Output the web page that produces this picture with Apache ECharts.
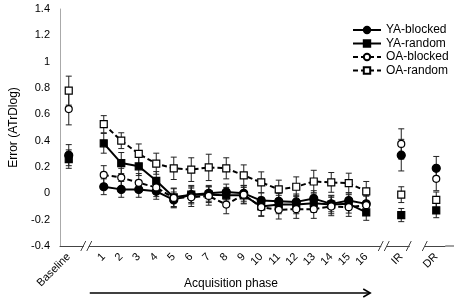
<!DOCTYPE html>
<html>
<head>
<meta charset="utf-8">
<script src="https://cdn.jsdelivr.net/npm/echarts@6/dist/echarts.min.js"></script>
<style>
  html, body { margin: 0; padding: 0; background: #fff; }
  #chart { width: 454px; height: 301px; }
</style>
</head>
<body>
<div id="chart"></div>
<script>
// tick labels: Baseline, acquisition blocks 1..16, IR, DR
const categories = ['Baseline', '1', '2', '3', '4', '5', '6', '7', '8', '9', '10', '11', '12', '13', '14', '15', '16', 'IR', 'DR'];
const seriesNames = ['YA-blocked', 'YA-random', 'OA-blocked', 'OA-random'];

// mean error per category (same order as categories)
const yaBlocked = [0.29, 0.05, 0.03, 0.03, 0.015, -0.05, -0.01, 0.0, 0.01, 0.0, -0.055, -0.06, -0.065, -0.04, -0.08, -0.055, -0.08, 0.29, 0.19];
const yaRandom = [0.26, 0.38, 0.23, 0.205, 0.095, -0.03, -0.01, -0.01, -0.015, -0.015, -0.1, -0.085, -0.085, -0.075, -0.085, -0.08, -0.145, -0.165, -0.13];
const oaBlocked = [0.64, 0.14, 0.12, 0.08, 0.045, -0.035, -0.03, -0.02, -0.085, -0.01, -0.105, -0.125, -0.12, -0.12, -0.1, -0.105, -0.09, 0.375, 0.11];
const oaRandom = [0.78, 0.525, 0.40, 0.30, 0.225, 0.19, 0.18, 0.197, 0.19, 0.136, 0.083, 0.03, 0.05, 0.09, 0.083, 0.078, 0.015, -0.01, -0.05];

// error bar half-lengths
const yaBlockedErr = [0.08, 0.06, 0.06, 0.06, 0.06, 0.06, 0.06, 0.06, 0.06, 0.06, 0.06, 0.06, 0.06, 0.06, 0.06, 0.06, 0.06, 0.12, 0.09];
const yaRandomErr = [0.07, 0.075, 0.08, 0.07, 0.07, 0.07, 0.07, 0.06, 0.06, 0.06, 0.07, 0.07, 0.07, 0.07, 0.07, 0.07, 0.06, 0.05, 0.055];
const oaBlockedErr = [0.12, 0.07, 0.07, 0.07, 0.07, 0.07, 0.07, 0.07, 0.07, 0.07, 0.07, 0.07, 0.07, 0.07, 0.07, 0.07, 0.07, 0.115, 0.09];
const oaRandomErr = [0.11, 0.065, 0.06, 0.075, 0.08, 0.085, 0.09, 0.1, 0.08, 0.08, 0.08, 0.07, 0.075, 0.085, 0.075, 0.075, 0.075, 0.06, 0.06];

// insert empty slots where the axis is broken
const gapAfter = { 0: 'gap1', 16: 'gap2', 17: 'gap3' };
function withGaps(arr, fill) {
  const out = [];
  arr.forEach((v, i) => {
    out.push(v);
    if (gapAfter[i]) out.push(fill === undefined ? gapAfter[i] : fill);
  });
  return out;
}
const axisCats = withGaps(categories);

const FONT = 'Liberation Sans, Arial, sans-serif';
const chart = echarts.init(document.getElementById('chart'));

const lineDefs = [
  { name: seriesNames[0], data: yaBlocked, err: yaBlockedErr, symbol: 'circle', size: 8, fill: '#000', dash: 'solid' },
  { name: seriesNames[1], data: yaRandom, err: yaRandomErr, symbol: 'rect', size: 7, fill: '#000', dash: 'solid' },
  { name: seriesNames[2], data: oaBlocked, err: oaBlockedErr, symbol: 'circle', size: 7, fill: '#fff', dash: [5, 3] },
  { name: seriesNames[3], data: oaRandom, err: oaRandomErr, symbol: 'rect', size: 7, fill: '#fff', dash: [5, 3] }
];

const series = [];
lineDefs.forEach(d => {
  const errData = [];
  let k = 0;
  axisCats.forEach((c, i) => {
    if (c.indexOf('gap') === 0) return;
    errData.push([i, d.data[k] - d.err[k], d.data[k] + d.err[k]]);
    k++;
  });
  series.push({
    name: 'err ' + d.name,
    type: 'custom',
    z: 1,
    silent: true,
    encode: { x: 0, y: [1, 2] },
    data: errData,
    renderItem(params, api) {
      const lo = api.coord([api.value(0), api.value(1)]);
      const hi = api.coord([api.value(0), api.value(2)]);
      const w = 3;
      const style = { stroke: '#222', lineWidth: 1 };
      return {
        type: 'group',
        children: [
          { type: 'line', shape: { x1: lo[0], y1: lo[1], x2: hi[0], y2: hi[1] }, style },
          { type: 'line', shape: { x1: lo[0] - w, y1: lo[1], x2: lo[0] + w, y2: lo[1] }, style },
          { type: 'line', shape: { x1: hi[0] - w, y1: hi[1], x2: hi[0] + w, y2: hi[1] }, style }
        ]
      };
    }
  });
});
lineDefs.forEach(d => {
  series.push({
    name: d.name,
    type: 'line',
    z: 3,
    data: withGaps(d.data, null),
    connectNulls: false,
    symbol: d.symbol,
    symbolSize: d.size,
    showAllSymbol: true,
    lineStyle: { color: '#000', width: 2, type: d.dash },
    itemStyle: { color: d.fill, borderColor: '#000', borderWidth: 1.2 },
    emphasis: { disabled: true }
  });
});

chart.setOption({
  animation: false,
  grid: { left: 49, right: 9, top: 9, bottom: 55 },
  legend: {
    data: seriesNames,
    orient: 'vertical',
    left: 347,
    top: 19,
    itemWidth: 28,
    itemHeight: 8,
    itemGap: 1.5,
    textStyle: { fontFamily: FONT, fontSize: 12, color: '#000', lineHeight: 12 }
  },
  xAxis: {
    type: 'category',
    data: axisCats,
    boundaryGap: true,
    axisLine: { onZero: false, lineStyle: { color: '#444', width: 1 } },
    axisTick: { show: false },
    axisLabel: {
      interval: 0,
      rotate: 45,
      margin: 9,
      fontFamily: FONT,
      fontSize: 11,
      color: '#000',
      formatter: v => (v.indexOf('gap') === 0 ? '' : v)
    }
  },
  yAxis: {
    type: 'value',
    min: -0.4,
    max: 1.4,
    interval: 0.2,
    name: 'Error (ATrDlog)',
    nameLocation: 'middle',
    nameGap: 40,
    nameTextStyle: { fontFamily: FONT, fontSize: 12, color: '#000' },
    axisLine: { show: true, lineStyle: { color: '#aaa' } },
    axisTick: { show: false },
    splitLine: { show: false },
    axisLabel: {
      fontFamily: FONT,
      fontSize: 11,
      color: '#000',
      margin: 10,
      formatter: v => String(Math.round(v * 10) / 10)
    }
  },
  series: series
});

// axis breaks, phase label and arrow placed from axis positions
const px = i => chart.convertToPixel({ xAxisIndex: 0 }, i);
const axisY = chart.convertToPixel({ yAxisIndex: 0 }, -0.4);
const lineStyle = { stroke: '#444', lineWidth: 1 };
const graphics = [];
function slash(x) {
  graphics.push({ type: 'line', shape: { x1: x - 2.5, y1: axisY + 5, x2: x + 2.5, y2: axisY - 5 }, style: lineStyle, z: 10 });
}
function cut(x1, x2) {
  graphics.push({ type: 'rect', shape: { x: x1, y: axisY - 2, width: x2 - x1, height: 4 }, style: { fill: '#fff' }, z: 9 });
}
[1, 18].forEach(i => {
  const cx = px(i);
  cut(cx - 2.5, cx + 2.5);
  slash(cx - 3);
  slash(cx + 3);
});
const g3 = px(20);
cut(g3 - 9, g3 + 6);
slash(g3 - 10);
slash(g3 + 6);
const gridRight = px(21) + 9;
graphics.push({ type: 'line', shape: { x1: gridRight, y1: axisY, x2: 454, y2: axisY }, style: lineStyle, z: 10 });

const aStart = px(2) - 14;
const aEnd = px(17) + 4;
graphics.push({
  type: 'text',
  style: { text: 'Acquisition phase', x: (px(2) + px(17)) / 2 - 4, y: axisY + 38, align: 'center', verticalAlign: 'middle', font: '12px ' + FONT, fill: '#000' },
  z: 10
});
graphics.push({ type: 'line', shape: { x1: aStart, y1: axisY + 47, x2: aEnd, y2: axisY + 47 }, style: { stroke: '#000', lineWidth: 1.5 }, z: 10 });
graphics.push({ type: 'polyline', shape: { points: [[aEnd - 7, axisY + 43], [aEnd, axisY + 47], [aEnd - 7, axisY + 51]] }, style: { stroke: '#000', lineWidth: 1.5, fill: null }, z: 10 });

chart.setOption({ graphic: graphics });
</script>
</body>
</html>
